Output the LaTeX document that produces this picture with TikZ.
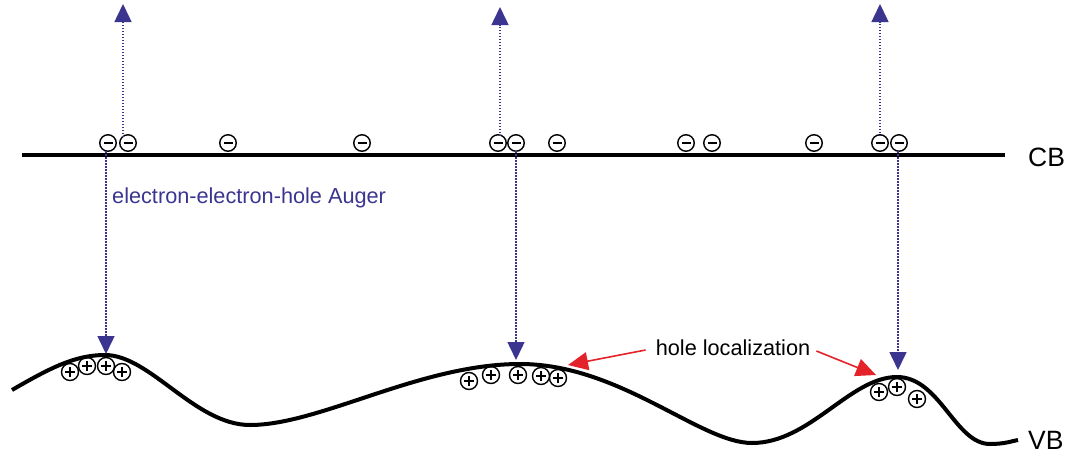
\documentclass[tikz,border=0pt]{standalone}
\usepackage{fontspec}
\setmainfont{Liberation Sans}
\usetikzlibrary{arrows.meta}
\definecolor{augblue}{HTML}{3B3590}
\definecolor{locred}{HTML}{E42229}
\tikzset{
  elec/.style={circle, draw, line width=1.4pt, minimum size=16.5pt, inner sep=0pt,
    path picture={\draw[line width=2pt] ([xshift=-4.5pt]path picture bounding box.center) -- ([xshift=4.5pt]path picture bounding box.center);}},
  hole/.style={circle, draw, line width=1.4pt, minimum size=17pt, inner sep=0pt,
    path picture={\draw[line width=2pt] ([xshift=-5pt]path picture bounding box.center) -- ([xshift=5pt]path picture bounding box.center)
      ([yshift=-5pt]path picture bounding box.center) -- ([yshift=5pt]path picture bounding box.center);}},
  auger/.style={augblue, line width=1.5pt, dash pattern=on 1.5pt off 1.5pt,
    -{Triangle[length=18pt,width=17pt,fill=augblue]}},
  locarrow/.style={locred, line width=1.6pt, -{Triangle[length=20pt,width=18pt]}},
  band/.style={line width=4pt},
  lbl/.style={font=\fontsize{21.7}{26}\selectfont, inner sep=0pt},
  bandlbl/.style={font=\fontsize{26.5}{30}\selectfont, inner sep=0pt},
}
\begin{document}
\begin{tikzpicture}[x=1pt,y=-1pt]
\useasboundingbox (0,0) rectangle (1076,458);
% CB line
\coordinate (cbL) at (22,155);
\coordinate (cbR) at (1005,155);
\draw[band] (cbL) -- (cbR);
\node[bandlbl, anchor=west] (cb) at (1028,157) {CB};
% VB curve
\coordinate (v0) at (12,390);
\coordinate (v1) at (105,355);
\coordinate (v2) at (250,425);
\coordinate (v3) at (520,364);
\coordinate (v4) at (752,443);
\coordinate (v5) at (897,377);
\coordinate (v6) at (990,444);
\coordinate (v7) at (1018,440);
\draw[band] (v0) .. controls (50,368) and (75,355) .. (v1)
  .. controls (150,355) and (195,425) .. (v2)
  .. controls (320,425) and (420,364) .. (v3)
  .. controls (620,364) and (700,443) .. (v4)
  .. controls (810,443) and (850,377) .. (v5)
  .. controls (940,377) and (955,444) .. (v6)
  .. controls (1005,444) and (1012,441) .. (v7);
\node[bandlbl, anchor=west] (vb) at (1028,440) {VB};
% electrons
\foreach \i/\x in {1/108,2/128,3/228,4/362,5/498,6/516,7/557,8/686,9/712,10/814,11/880,12/899}
  \node[elec] (e\i) at (\x,143) {};
% holes
\foreach \i/\x/\y in {1/70/372,2/87/366,3/106/366,4/122/372,
                      5/469/381,6/491/375,7/518/375,8/541/376,9/558/378,
                      10/879/392,11/897/387,12/917/399}
  \node[hole] (h\i) at (\x,\y) {};
% Auger arrows up
\coordinate (u1s) at (123,137); \coordinate (u1e) at (123,4);
\coordinate (u2s) at (500,136); \coordinate (u2e) at (500,7);
\coordinate (u3s) at (880,136); \coordinate (u3e) at (880,4);
\draw[auger] (u1s) -- (u1e);
\draw[auger] (u2s) -- (u2e);
\draw[auger] (u3s) -- (u3e);
% Auger arrows down
\coordinate (d1s) at (106,151); \coordinate (d1e) at (106,354);
\coordinate (d2s) at (516,151); \coordinate (d2e) at (516,360);
\coordinate (d3s) at (898,151); \coordinate (d3e) at (898,370);
\draw[auger] (d1s) -- (d1e);
\draw[auger] (d2s) -- (d2e);
\draw[auger] (d3s) -- (d3e);
\node[lbl, anchor=west, text=augblue] (aug) at (112,198) {electron-electron-hole Auger};
% hole localization
\node[lbl] (loc) at (733,348) {hole localization};
\coordinate (l1) at (568,365);
\coordinate (l2) at (876,375);
\draw[locarrow] (loc.west) ++(-10,2) coordinate (l1s) -- (l1);
\draw[locarrow] (loc.east) ++(6,3) coordinate (l2s) -- (l2);
\end{tikzpicture}
\end{document}
